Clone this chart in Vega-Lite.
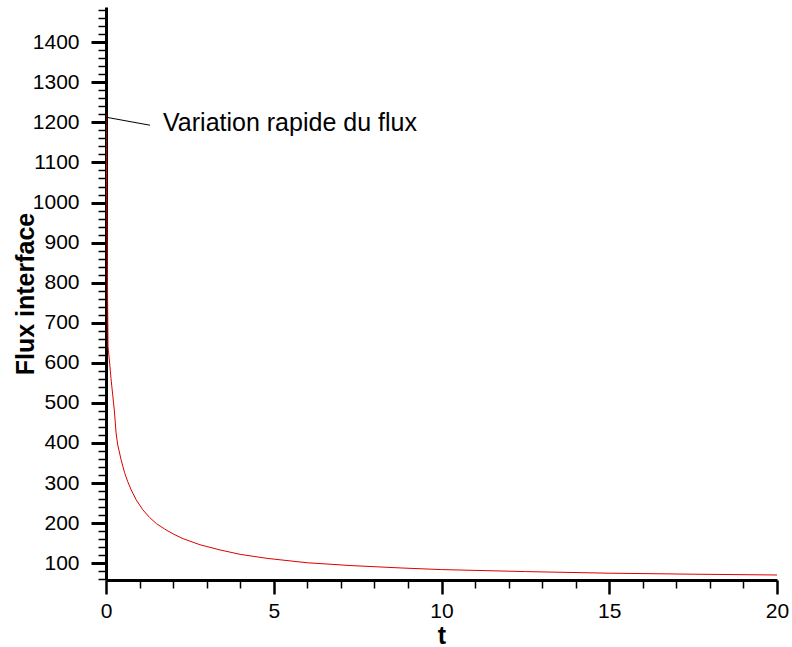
{
  "$schema": "https://vega.github.io/schema/vega-lite/v6.json",
  "width": 671,
  "height": 573,
  "autosize": {"type": "none"},
  "padding": {"left": 106, "top": 7, "right": 15, "bottom": 67},
  "background": "white",
  "config": {"view": {"stroke": null}, "font": "Liberation Sans"},
  "datasets": {
    "curve": [
      {"t": 0, "F": 1220}, {"t": 0.06, "F": 640}, {"t": 0.1, "F": 607}, {"t": 0.15, "F": 560},
      {"t": 0.2, "F": 520}, {"t": 0.25, "F": 480}, {"t": 0.3, "F": 425}, {"t": 0.35, "F": 395},
      {"t": 0.45, "F": 358}, {"t": 0.55, "F": 327}, {"t": 0.65, "F": 303}, {"t": 0.75, "F": 283},
      {"t": 0.9, "F": 258}, {"t": 1.1, "F": 233}, {"t": 1.3, "F": 214}, {"t": 1.5, "F": 199},
      {"t": 1.75, "F": 185}, {"t": 2, "F": 173}, {"t": 2.3, "F": 161}, {"t": 2.8, "F": 146},
      {"t": 3.4, "F": 133}, {"t": 4, "F": 122}, {"t": 4.8, "F": 112}, {"t": 6, "F": 101},
      {"t": 7.3, "F": 94}, {"t": 8.8, "F": 88}, {"t": 10, "F": 84}, {"t": 12.5, "F": 79},
      {"t": 15, "F": 75}, {"t": 17.5, "F": 72.5}, {"t": 20, "F": 70.5}
    ],
    "note": [
      {"t": 0, "F": 1213, "t2": 1.31, "F2": 1193, "tl": 1.7, "Fl": 1179, "label": "Variation rapide du flux"}
    ]
  },
  "layer": [
    {
      "data": {"name": "curve"},
      "mark": {"type": "line", "color": "#dd0000", "strokeWidth": 1, "clip": true},
      "encoding": {
        "x": {
          "field": "t", "type": "quantitative",
          "scale": {"domain": [0, 20], "nice": false, "zero": false},
          "axis": {
            "orient": "bottom", "values": [0, 5, 10, 15, 20], "grid": false, "format": "d",
            "tickSize": 14, "tickWidth": 2.5, "tickColor": "black",
            "domainColor": "black", "domainWidth": 3,
            "labelFontSize": 21, "labelColor": "black", "labelPadding": 6, "labelFont": "Liberation Sans",
            "labelFlush": false, "labelOverlap": false,
            "title": "t", "titleFontSize": 25, "titleFontWeight": "bold", "titleColor": "black",
            "titleFont": "Liberation Sans", "titleY": 63, "titleBaseline": "alphabetic"
          }
        },
        "y": {
          "field": "F", "type": "quantitative",
          "scale": {"domain": [58, 1488], "nice": false, "zero": false},
          "axis": {
            "orient": "left", "values": [100, 200, 300, 400, 500, 600, 700, 800, 900, 1000, 1100, 1200, 1300, 1400],
            "grid": false, "format": "d", "tickSize": 15, "tickWidth": 3, "tickColor": "black",
            "domainColor": "black", "domainWidth": 3,
            "labelFontSize": 21, "labelColor": "black", "labelPadding": 12, "labelFont": "Liberation Sans",
            "labelFlush": false, "labelOverlap": false, "labelBaseline": "middle",
            "title": "Flux interface", "titleFontSize": 25, "titleFontWeight": "bold", "titleColor": "black",
            "titleFont": "Liberation Sans", "titleX": -73, "titleY": 286.5, "titleAngle": -90,
            "titleBaseline": "alphabetic", "titleAlign": "center"
          }
        }
      }
    },
    {
      "data": {"name": "note"},
      "mark": {"type": "rule", "color": "black", "strokeWidth": 1},
      "encoding": {
        "x": {
          "field": "t", "type": "quantitative",
          "scale": {"domain": [0, 20], "nice": false, "zero": false},
          "axis": {
            "orient": "bottom", "grid": false, "labels": false, "domain": false, "title": null,
            "tickSize": 8, "tickWidth": 1.5, "tickColor": "black",
            "values": [1, 2, 3, 4, 6, 7, 8, 9, 11, 12, 13, 14, 16, 17, 18, 19]
          }
        },
        "x2": {"field": "t2"},
        "y": {
          "field": "F", "type": "quantitative",
          "scale": {"domain": [58, 1488], "nice": false, "zero": false},
          "axis": {
            "orient": "left", "grid": false, "labels": false, "domain": false, "title": null,
            "tickSize": 8, "tickWidth": 1.5, "tickColor": "black",
            "values": [60, 80, 120, 140, 160, 180, 220, 240, 260, 280, 320, 340, 360, 380, 420, 440, 460, 480, 520, 540, 560, 580, 620, 640, 660, 680, 720, 740, 760, 780, 820, 840, 860, 880, 920, 940, 960, 980, 1020, 1040, 1060, 1080, 1120, 1140, 1160, 1180, 1220, 1240, 1260, 1280, 1320, 1340, 1360, 1380, 1420, 1440, 1460, 1480]
          }
        },
        "y2": {"field": "F2"}
      }
    },
    {
      "data": {"name": "note"},
      "mark": {"type": "text", "align": "left", "baseline": "alphabetic", "fontSize": 25, "font": "Liberation Sans", "color": "black"},
      "encoding": {
        "x": {"field": "tl", "type": "quantitative", "scale": {"domain": [0, 20], "nice": false, "zero": false}, "axis": null},
        "y": {"field": "Fl", "type": "quantitative", "scale": {"domain": [58, 1488], "nice": false, "zero": false}, "axis": null},
        "text": {"field": "label"}
      }
    }
  ],
  "resolve": {"axis": {"x": "independent", "y": "independent"}}
}
